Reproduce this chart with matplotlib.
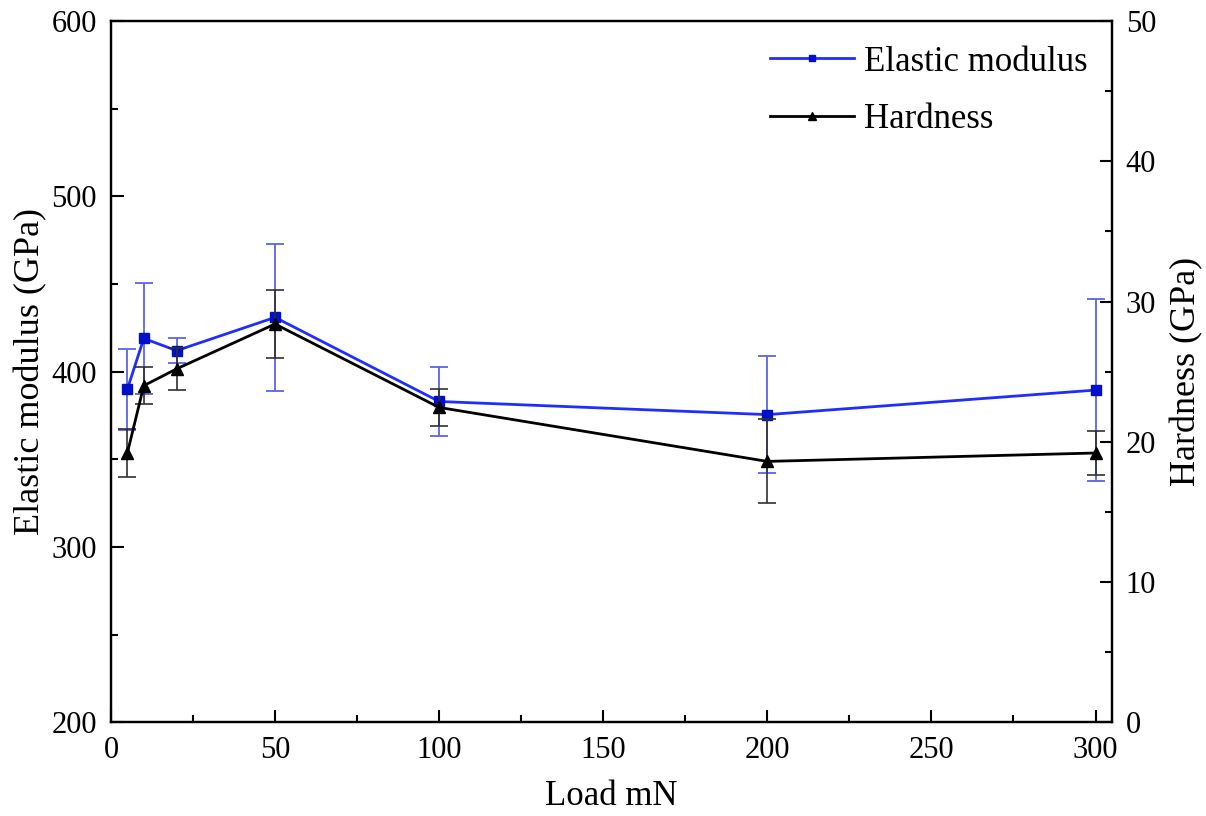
import matplotlib
matplotlib.use('Agg')
from matplotlib import pyplot as plt
from matplotlib.ticker import MultipleLocator

plt.rcParams['font.family'] = ['Liberation Serif', 'DejaVu Serif']
plt.rcParams['mathtext.fontset'] = 'stix'

# data
load = [5, 10, 20, 50, 100, 200, 300]
modulus = [390, 419, 412, 431, 383, 375.5, 389.5]
modulus_err = [23, 31.5, 7, 42, 19.5, 33.5, 52]
hardness = [19.2, 24.0, 25.2, 28.4, 22.45, 18.6, 19.2]
hardness_err = [1.7, 1.3, 1.5, 2.4, 1.35, 3.0, 1.55]

fig = plt.figure(figsize=(12.06, 8.16), dpi=100)
ax = fig.add_axes([0.092, 0.115, 0.830, 0.859])
ax2 = ax.twinx()

e1 = ax.errorbar(load, modulus, yerr=modulus_err, color='#1f2dff', lw=2,
                 marker='s', ms=6.5, mfc='#0010c8', mec='#0010c8',
                 ecolor='#5a66e6', elinewidth=1.3, capsize=6.5, capthick=1.3)
e2 = ax2.errorbar(load, hardness, yerr=hardness_err, color='black', lw=2,
                  marker='^', ms=8, mfc='black', mec='black',
                  ecolor='#303030', elinewidth=1.2, capsize=6.5, capthick=1.2)

ax.set_xlim(0, 305)
ax.set_ylim(200, 600)
ax2.set_ylim(0, 50)

ax.xaxis.set_major_locator(MultipleLocator(50))
ax.xaxis.set_minor_locator(MultipleLocator(25))
ax.yaxis.set_major_locator(MultipleLocator(100))
ax.yaxis.set_minor_locator(MultipleLocator(50))
ax2.yaxis.set_major_locator(MultipleLocator(10))
ax2.yaxis.set_minor_locator(MultipleLocator(5))

for a in (ax, ax2):
    a.tick_params(which='major', direction='in', length=9, width=1.5, labelsize=22, pad=10)
    a.tick_params(which='minor', direction='in', length=5, width=1.5)
    for s in a.spines.values():
        s.set_linewidth(1.6)
ax.tick_params(top=False, right=False, which='both')

ax.set_xlabel('Load mN', fontsize=25, labelpad=11)
ax.set_ylabel('Elastic modulus (GPa)', fontsize=26, labelpad=3)
ax2.set_ylabel('Hardness (GPa)', fontsize=26, labelpad=10)

leg = ax2.legend([e1.lines[0], e2.lines[0]], ['Elastic modulus', 'Hardness'],
                 loc='upper right', bbox_to_anchor=(1.0, 1.0),
                 frameon=False, fontsize=25, handlelength=2.4, handletextpad=0.3,
                 labelspacing=0.7, markerscale=0.7, borderaxespad=0.3)

fig.savefig('out.png', dpi=100)
